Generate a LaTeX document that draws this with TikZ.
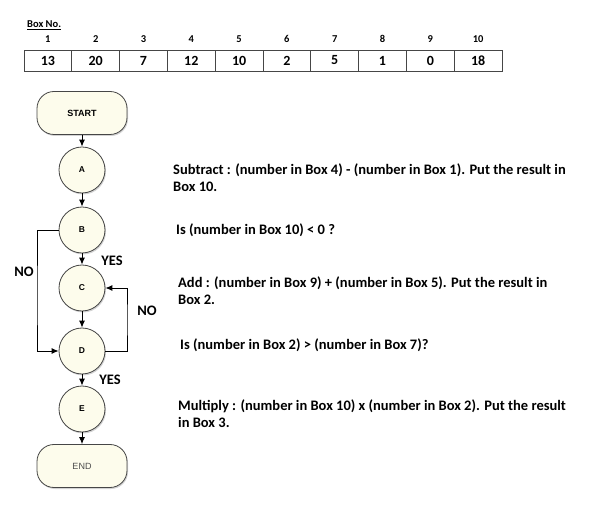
\documentclass[tikz,border=0pt]{standalone}
\usepackage{fontspec}
\setmainfont{Carlito}
\newfontfamily\chartfont{Liberation Sans}
\usetikzlibrary{shadows,arrows.meta}
\definecolor{cream}{RGB}{253,252,236}
\definecolor{edgegray}{RGB}{70,70,70}
\begin{document}
\begin{tikzpicture}[x=1pt,y=-1pt,
    cell/.style={draw=edgegray,line width=0.8pt,minimum width=47.8pt,minimum height=21pt,inner sep=0pt,font=\bfseries\fontsize{14}{16}\selectfont},
    head/.style={inner sep=0pt,font=\bfseries\fontsize{10.5}{12}\selectfont},
    terminal/.style={draw=edgegray,line width=0.8pt,fill=cream,rounded corners=17pt,minimum width=90pt,minimum height=43pt,
        drop shadow={opacity=0.35,shadow xshift=1pt,shadow yshift=-1.5pt},font=\chartfont\fontsize{9}{10}\selectfont},
    stepnode/.style={draw=edgegray,line width=0.8pt,fill=cream,circle,minimum size=46pt,inner sep=0pt,
        drop shadow={opacity=0.35,shadow xshift=1pt,shadow yshift=-1.5pt},font=\chartfont\bfseries\fontsize{8.5}{10}\selectfont},
    note/.style={anchor=base west,align=left,inner sep=0pt,font=\bfseries\fontsize{14.5}{17}\selectfont},
    answer/.style={inner sep=0pt,font=\bfseries\fontsize{14.5}{16}\selectfont},
    flow/.style={draw=black,line width=0.9pt,-{Latex[length=7pt,width=6pt]}}
]
\useasboundingbox (0,0) rectangle (616,510);

% box table
\node[anchor=base west,inner sep=0pt,font=\bfseries\fontsize{10.5}{12}\selectfont] (title) at (27,28) {\underline{Box No.}};
\node[head] (h1)  at (47.9,39)  {1};
\node[head] (h2)  at (95.7,39)  {2};
\node[head] (h3)  at (143.5,39) {3};
\node[head] (h4)  at (191.3,39) {4};
\node[head] (h5)  at (239.1,39) {5};
\node[head] (h6)  at (286.9,39) {6};
\node[head] (h7)  at (334.7,39) {7};
\node[head] (h8)  at (382.5,39) {8};
\node[head] (h9)  at (430.3,39) {9};
\node[head] (h10) at (478.1,39) {10};
\node[cell] (c1)  at (47.9,60.5)  {13};
\node[cell] (c2)  at (95.7,60.5)  {20};
\node[cell] (c3)  at (143.5,60.5) {7};
\node[cell] (c4)  at (191.3,60.5) {12};
\node[cell] (c5)  at (239.1,60.5) {10};
\node[cell] (c6)  at (286.9,60.5) {2};
\node[cell] (c7)  at (334.7,60.5) {5};
\node[cell] (c8)  at (382.5,60.5) {1};
\node[cell] (c9)  at (430.3,60.5) {0};
\node[cell] (c10) at (478.1,60.5) {18};

% flowchart
\node[terminal,font=\chartfont\bfseries\fontsize{9}{10}\selectfont] (start) at (82,113) {START};
\node[stepnode] (A) at (82,170) {A};
\node[stepnode] (B) at (82,230) {B};
\node[stepnode] (C) at (82,288) {C};
\node[stepnode] (D) at (82,351) {D};
\node[stepnode] (E) at (82,409) {E};
\node[terminal,text=black!70] (end) at (82,466) {END};

\draw[flow] (start) -- (A);
\draw[flow] (A) -- (B);
\draw[flow] (B) -- (C);
\draw[flow] (C) -- (D);
\draw[flow] (D) -- (E);
\draw[flow] (E) -- (end);
\draw[flow] (B.west) -| (37,300) |- (D.west);
\draw[flow] (D.east) -| (127,320) |- (C.east);

\node[answer] (yesB) at (112,261) {YES};
\node[answer] (noB)  at (24,272)  {NO};
\node[answer] (noD)  at (147,311) {NO};
\node[answer] (yesD) at (110,380) {YES};

% instructions
\node[note] (tA) at (173,192) {Subtract : (number in Box 4) - (number in Box 1). Put the result in\\Box 10.};
\node[note] (tB) at (176,235) {Is (number in Box 10) < 0 ?};
\node[note] (tC) at (178,305) {Add : (number in Box 9) + (number in Box 5). Put the result in\\Box 2.};
\node[note] (tD) at (180,350) {Is (number in Box 2) > (number in Box 7)?};
\node[note] (tE) at (178,428) {Multiply : (number in Box 10) x (number in Box 2). Put the result\\in Box 3.};
\end{tikzpicture}
\end{document}
